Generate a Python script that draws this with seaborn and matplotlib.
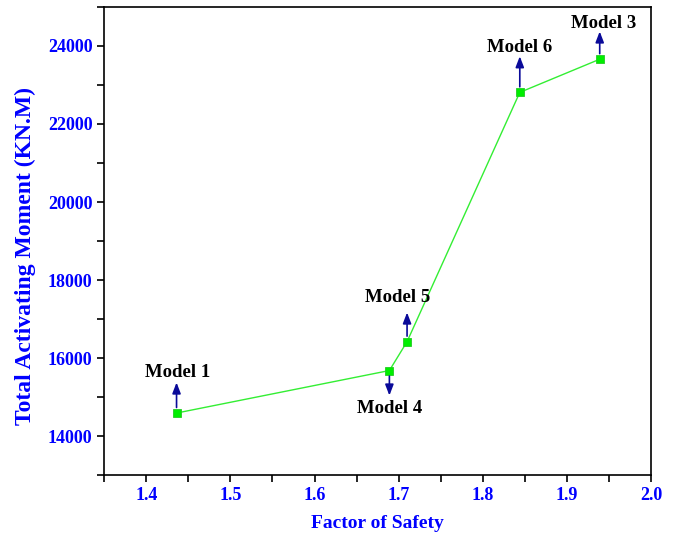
import matplotlib
matplotlib.use("Agg")
import matplotlib.pyplot as plt
from matplotlib.ticker import MultipleLocator
import pandas as pd
import seaborn as sns

# values
models = ["Model 1", "Model 4", "Model 5", "Model 6", "Model 3"]
factor_of_safety = [1.436, 1.689, 1.710, 1.844, 1.939]
activating_moment = [14590, 15680, 16420, 22810, 23660]
# label placement (points): text offset and arrow length, negative = below
label_dx = [1, 0, -7, 0, 3]
label_dy = [29.5, -27.5, 31.5, 32.5, 26]
arrow_len = [22, -18, 21, 26, 20]

df = pd.DataFrame({"fos": factor_of_safety, "moment": activating_moment, "model": models})

sns.set_style("ticks")
plt.rcParams["font.family"] = ["Liberation Serif", "DejaVu Serif"]
plt.rcParams["font.weight"] = "bold"

fig, ax = plt.subplots(figsize=(6.81, 5.35), dpi=100)
fig.subplots_adjust(left=0.153, right=0.956, bottom=0.112, top=0.987)

sns.lineplot(data=df, x="fos", y="moment", ax=ax, sort=False, color="#33ee33",
             linewidth=1.0, marker="s", markersize=6, markerfacecolor="#00ee00",
             markeredgecolor="#22cc22", markeredgewidth=0.6)

for x, y, name, dx, dy, al in zip(factor_of_safety, activating_moment, models,
                                  label_dx, label_dy, arrow_len):
    ax.annotate("", xy=(x, y), xytext=(0, al), textcoords="offset points",
                arrowprops=dict(arrowstyle="<|-,head_length=0.65,head_width=0.25", color="#0a0a99",
                                lw=1.2, shrinkA=0, shrinkB=4))
    ax.annotate(name, xy=(x, y), xytext=(dx, dy), textcoords="offset points",
                ha="center", va="center", fontsize=13.5, fontweight="bold", color="black")

ax.set_xlim(1.35, 2.0)
ax.set_ylim(13000, 25000)
ax.xaxis.set_major_locator(MultipleLocator(0.1))
ax.xaxis.set_minor_locator(MultipleLocator(0.05))
ax.yaxis.set_major_locator(MultipleLocator(2000))
ax.yaxis.set_minor_locator(MultipleLocator(1000))
ax.tick_params(axis="both", which="both", direction="out", length=5, width=1.2, color="black")
ax.tick_params(axis="both", which="major", labelsize=13, labelcolor="#0000ff")
for lab in ax.get_xticklabels() + ax.get_yticklabels():
    lab.set_fontweight("bold")

for sp in ax.spines.values():
    sp.set_visible(True)
    sp.set_linewidth(1.2)
    sp.set_color("black")

ax.set_xlabel("Factor of Safety", fontsize=14, fontweight="bold", color="#0000ff", labelpad=8)
ax.set_ylabel("Total Activating Moment (KN.M)", fontsize=17, fontweight="bold", color="#0000ff")
ax.yaxis.set_label_coords(-0.125, 0.468)

fig.savefig("out.png", dpi=100)
